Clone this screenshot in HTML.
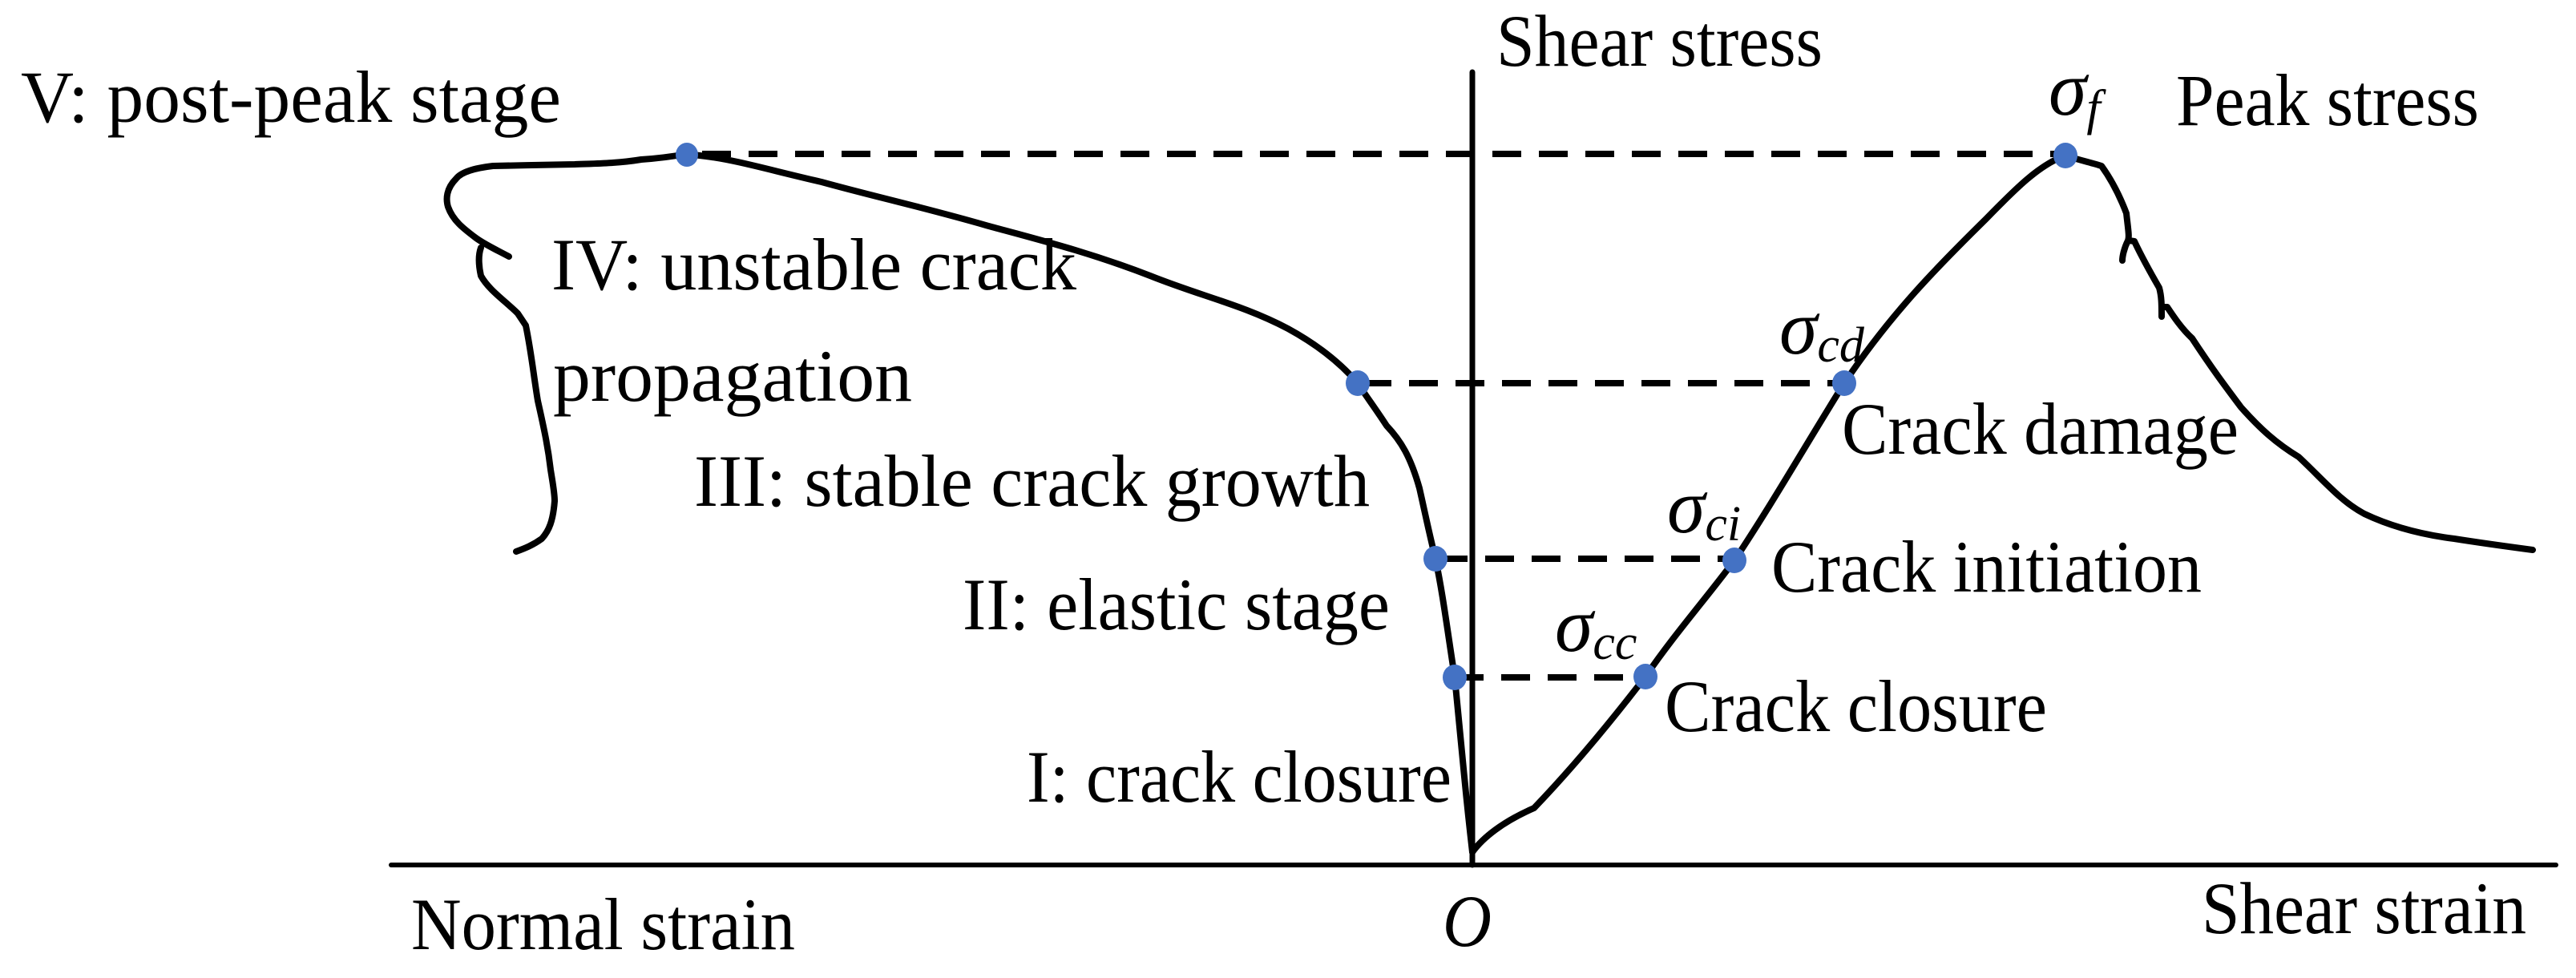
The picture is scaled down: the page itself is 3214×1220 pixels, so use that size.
<!DOCTYPE html>
<html><head><meta charset="utf-8"><style>html,body{margin:0;padding:0;background:#fff}svg{display:block}</style></head>
<body>
<svg width="3214" height="1220" viewBox="0 0 3214 1220" xmlns="http://www.w3.org/2000/svg">
<g stroke="#000" fill="none" stroke-linecap="round" stroke-linejoin="round">
<line x1="488" y1="1079" x2="3189" y2="1079" stroke-width="6"/>
<line x1="1837" y1="90" x2="1837" y2="1079" stroke-width="7"/>
<g stroke-width="8" stroke-dasharray="36 22" stroke-linecap="butt">
<line x1="876" y1="192" x2="2577" y2="192"/>
<line x1="1700" y1="478" x2="2301" y2="478"/>
<line x1="1795" y1="697" x2="2164" y2="697"/>
<line x1="1815" y1="845" x2="2053" y2="845"/>
</g>
<path stroke-width="8" d="M1837,1063 C1832,1020 1830,1000 1827,969 C1822,920 1818,880 1815,845 C1805,780 1800,740 1791,697 C1782,660 1778,640 1771,609 C1760,570 1748,550 1730,531 C1715,508 1705,495 1694,478 C1670,450 1640,428 1607,410 C1550,380 1500,370 1435,344 C1360,315 1300,300 1230,281 C1150,258 1090,245 1025,227 C960,212 920,200 881,195 L857,192 C835,196 815,198 800,199 C770,204 740,204 717,205 C680,206 650,206 615,207 C590,210 575,215 569,223 C557,235 556,248 559,258 C565,275 578,285 594,297 C605,305 620,312 635,320 M600,309 C596,320 598,335 600,344 C610,362 630,375 646,391 M646,391 L656,406 C663,440 666,470 671,500 C680,540 684,560 687,586 C690,605 692,615 692,625 C690,650 685,662 676,672 C665,680 655,684 644,688"/>
<path stroke-width="8" d="M1837,1063 C1850,1045 1875,1025 1914,1008 C1960,960 2010,900 2053,844 C2090,790 2130,745 2164,699 C2210,630 2250,560 2301,478 C2360,390 2420,330 2478,273 C2515,235 2545,205 2577,194 C2595,200 2610,203 2622,207 C2635,225 2645,245 2653,266 C2655,285 2657,295 2655,300 C2650,310 2648,320 2648,325 M2656,300 L2663,301 C2672,320 2683,340 2694,359 C2697,370 2697,380 2697,395 M2697,383 L2704,383 C2712,395 2722,410 2735,422 C2760,460 2775,480 2796,508 C2820,535 2840,553 2868,570 C2900,600 2920,625 2950,641 C2990,660 3030,668 3062,672 C3100,678 3130,682 3160,686"/>
</g>
<g fill="#4472C4">
<ellipse cx="857" cy="193" rx="14" ry="15"/>
<ellipse cx="2577" cy="194" rx="15" ry="16"/>
<ellipse cx="1694" cy="478" rx="15" ry="16"/>
<ellipse cx="2301" cy="478" rx="15" ry="16"/>
<ellipse cx="1791" cy="697" rx="15" ry="16"/>
<ellipse cx="2164" cy="699" rx="15" ry="16"/>
<ellipse cx="1815" cy="845" rx="15" ry="16"/>
<ellipse cx="2053" cy="844" rx="15" ry="16"/>
</g>
<g font-family="'Liberation Serif', serif" font-size="92" fill="#000">
<text x="26" y="152" textLength="674" lengthAdjust="spacingAndGlyphs">V: post-peak stage</text>
<text x="688" y="361" textLength="655" lengthAdjust="spacingAndGlyphs">IV: unstable crack</text>
<text x="690" y="500" textLength="448" lengthAdjust="spacingAndGlyphs">propagation</text>
<text x="866" y="631" textLength="843" lengthAdjust="spacingAndGlyphs">III: stable crack growth</text>
<text x="1201" y="785" textLength="533" lengthAdjust="spacingAndGlyphs">II: elastic stage</text>
<text x="1281" y="1000" textLength="530" lengthAdjust="spacingAndGlyphs">I: crack closure</text>
<text x="513" y="1184" textLength="479" lengthAdjust="spacingAndGlyphs">Normal strain</text>
<text x="1800" y="1180" font-style="italic" textLength="61" lengthAdjust="spacingAndGlyphs">O</text>
<text x="1867" y="82" textLength="407" lengthAdjust="spacingAndGlyphs">Shear stress</text>
<text x="2715" y="156" textLength="378" lengthAdjust="spacingAndGlyphs">Peak stress</text>
<text x="2298" y="566" textLength="495" lengthAdjust="spacingAndGlyphs">Crack damage</text>
<text x="2210" y="738" textLength="537" lengthAdjust="spacingAndGlyphs">Crack initiation</text>
<text x="2077" y="912" textLength="477" lengthAdjust="spacingAndGlyphs">Crack closure</text>
<text x="2747" y="1164" textLength="405" lengthAdjust="spacingAndGlyphs">Shear strain</text>
<g font-style="italic" font-size="96">
<text x="2556" y="143">σ<tspan font-size="62" dy="12">f</tspan></text>
<text x="2220" y="441">σ<tspan font-size="62" dy="10">cd</tspan></text>
<text x="2080" y="664">σ<tspan font-size="62" dy="10">ci</tspan></text>
<text x="1940" y="812">σ<tspan font-size="62" dy="10">cc</tspan></text>
</g>
</g>
</svg>
</body></html>
